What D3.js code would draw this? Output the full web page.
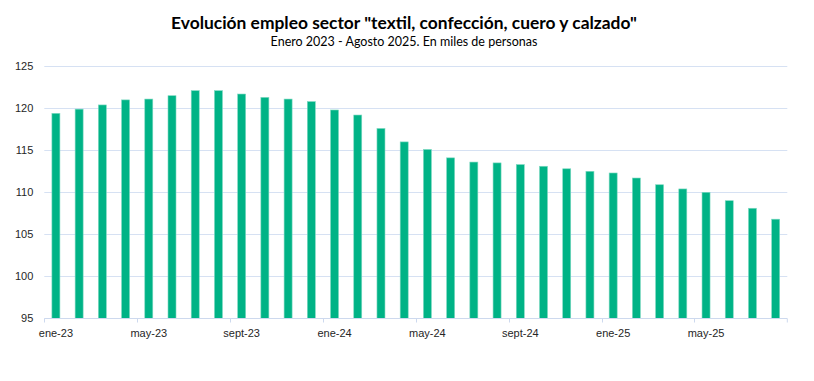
<!DOCTYPE html>
<html>
<head>
<meta charset="utf-8">
<script src="https://cdn.jsdelivr.net/npm/d3@7/dist/d3.min.js"></script>
<style>
  html, body { margin: 0; padding: 0; background: #ffffff; }
  svg { display: block; }
</style>
</head>
<body>
<svg id="chart" width="814" height="381"></svg>
<script>
const title = 'Evolución empleo sector "textil, confección, cuero y calzado"';
const subtitle = "Enero 2023 - Agosto 2025. En miles de personas";

const categories = [
  "ene-23","feb-23","mar-23","abr-23","may-23","jun-23","jul-23","ago-23","sept-23","oct-23","nov-23","dic-23",
  "ene-24","feb-24","mar-24","abr-24","may-24","jun-24","jul-24","ago-24","sept-24","oct-24","nov-24","dic-24",
  "ene-25","feb-25","mar-25","abr-25","may-25","jun-25","jul-25","ago-25"
];
const values = [
  119.4, 119.9, 120.4, 121.0, 121.1, 121.5, 122.1, 122.1, 121.7, 121.3, 121.1, 120.8,
  119.8, 119.2, 117.6, 116.0, 115.1, 114.1, 113.6, 113.5, 113.3, 113.1, 112.8, 112.5,
  112.3, 111.7, 110.9, 110.4, 110.0, 109.0, 108.1, 106.8
];
const yTicks = [95, 100, 105, 110, 115, 120, 125];
const xLabelEvery = 4;

const svg = d3.select("#chart");
const margin = { left: 44.3, right: 814 - 787.3, top: 66.3, bottom: 381 - 318.3 };
const W = 814, H = 381;

const x = d3.scaleBand()
  .domain(categories)
  .range([margin.left, W - margin.right])
  .paddingInner(0.655)
  .paddingOuter(0.3275);

const xb = d3.scaleBand().domain(categories).range([margin.left, W - margin.right]);

const y = d3.scaleLinear().domain([95, 125]).range([H - margin.bottom, margin.top]);

const gridColor = "#d6e1f3";
const axisColor = "#cdd9ee";
const textColor = "#262626";

// gridlines
svg.append("g")
  .selectAll("line")
  .data(yTicks.filter(d => d !== 95))
  .join("line")
  .attr("x1", margin.left)
  .attr("x2", W - margin.right)
  .attr("y1", d => Math.round(y(d)) + 0.5)
  .attr("y2", d => Math.round(y(d)) + 0.5)
  .attr("stroke", gridColor)
  .attr("stroke-width", 1);

// y labels
const yAxis = d3.axisLeft(y).tickValues(yTicks).tickSize(0).tickPadding(11);
const gy = svg.append("g").attr("transform", `translate(${margin.left},0)`).call(yAxis);
gy.select(".domain").remove();
gy.selectAll("text")
  .attr("font-family", "Liberation Sans, Arial, sans-serif")
  .attr("font-size", 11)
  .attr("fill", textColor);

// bars
svg.append("g")
  .selectAll("rect")
  .data(values)
  .join("rect")
  .attr("x", (d, i) => x(categories[i]))
  .attr("width", x.bandwidth())
  .attr("y", d => y(d))
  .attr("height", d => y(95) - y(d))
  .attr("fill", "#00b386")
  .attr("stroke", "#7fd9c2")
  .attr("stroke-width", 0.6);

// x axis
const baseY = Math.round(y(95)) + 0.5;
const gx = svg.append("g");
gx.append("line")
  .attr("x1", margin.left).attr("x2", W - margin.right)
  .attr("y1", baseY).attr("y2", baseY)
  .attr("stroke", axisColor).attr("stroke-width", 1);

const tickCats = categories.filter((c, i) => i % xLabelEvery === 0);
gx.selectAll("line.tick")
  .data(tickCats.concat(["__end"]))
  .join("line")
  .attr("class", "tick")
  .attr("x1", d => d === "__end" ? W - margin.right : Math.round(xb(d)) + 0.5)
  .attr("x2", d => d === "__end" ? W - margin.right : Math.round(xb(d)) + 0.5)
  .attr("y1", baseY).attr("y2", baseY + 4)
  .attr("stroke", axisColor).attr("stroke-width", 1);

gx.selectAll("text")
  .data(tickCats)
  .join("text")
  .attr("x", d => xb(d) + xb.bandwidth() / 2)
  .attr("y", baseY + 18)
  .attr("text-anchor", "middle")
  .attr("font-family", "Liberation Sans, Arial, sans-serif")
  .attr("font-size", 11)
  .attr("fill", textColor)
  .text(d => d);

// titles
svg.append("text")
  .attr("x", 404).attr("y", 29)
  .attr("text-anchor", "middle")
  .attr("font-family", "Lato, sans-serif")
  .attr("font-weight", "bold")
  .attr("font-size", 17.4)
  .attr("fill", "#000000")
  .text(title);

svg.append("text")
  .attr("x", 404).attr("y", 46)
  .attr("text-anchor", "middle")
  .attr("font-family", "Lato, sans-serif")
  .attr("font-size", 12.5)
  .attr("fill", "#000000")
  .text(subtitle);
</script>
</body>
</html>
